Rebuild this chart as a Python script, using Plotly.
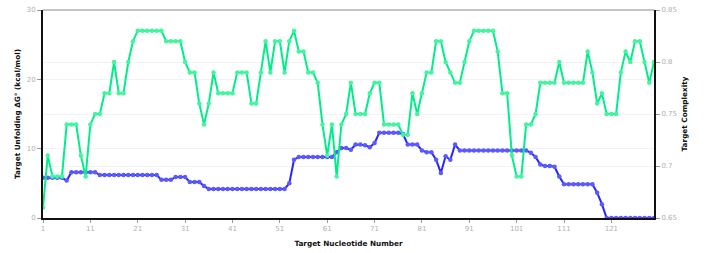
import plotly.graph_objects as go

nucleotide = list(range(1, 131))

unfolding_dg = [
    5.8, 5.8, 5.8, 5.8, 5.8, 5.4, 6.6, 6.6, 6.6, 6.6,
    6.6, 6.6, 6.2, 6.2, 6.2, 6.2, 6.2, 6.2, 6.2, 6.2,
    6.2, 6.2, 6.2, 6.2, 6.2, 5.5, 5.5, 5.5, 5.9, 5.9,
    5.9, 5.2, 5.2, 5.2, 4.6, 4.2, 4.2, 4.2, 4.2, 4.2,
    4.2, 4.2, 4.2, 4.2, 4.2, 4.2, 4.2, 4.2, 4.2, 4.2,
    4.2, 4.2, 5.0, 8.4, 8.8, 8.8, 8.8, 8.8, 8.8, 8.8,
    8.8, 8.8, 9.5, 10.1, 10.1, 9.85, 10.6, 10.6, 10.5, 10.2,
    10.8, 12.3, 12.3, 12.3, 12.3, 12.3, 12.1, 10.6, 10.6, 10.6,
    9.75, 9.5, 9.5, 8.4, 6.5, 8.9, 8.4, 10.6, 9.75, 9.75,
    9.75, 9.75, 9.75, 9.75, 9.75, 9.75, 9.75, 9.75, 9.75, 9.75,
    9.75, 9.75, 9.75, 9.4, 8.8, 7.7, 7.5, 7.5, 7.4, 6.0,
    4.85, 4.85, 4.85, 4.85, 4.85, 4.85, 4.85, 3.65, 2.0, 0.0,
    0.0, 0.0, 0.0, 0.0, 0.0, 0.0, 0.0, 0.0, 0.0, 0.0,
]

complexity = [
    0.66, 0.71, 0.69, 0.69, 0.69, 0.74, 0.74, 0.74, 0.71, 0.69,
    0.74, 0.75, 0.75, 0.77, 0.77, 0.80, 0.77, 0.77, 0.80, 0.82,
    0.83, 0.83, 0.83, 0.83, 0.83, 0.83, 0.82, 0.82, 0.82, 0.82,
    0.80, 0.79, 0.79, 0.76, 0.74, 0.76, 0.79, 0.77, 0.77, 0.77,
    0.77, 0.79, 0.79, 0.79, 0.76, 0.76, 0.79, 0.82, 0.79, 0.82,
    0.82, 0.79, 0.82, 0.83, 0.81, 0.81, 0.79, 0.79, 0.78, 0.74,
    0.71, 0.74, 0.69, 0.74, 0.75, 0.78, 0.75, 0.75, 0.75, 0.77,
    0.78, 0.78, 0.74, 0.74, 0.74, 0.74, 0.73, 0.73, 0.77, 0.75,
    0.77, 0.79, 0.79, 0.82, 0.82, 0.80, 0.79, 0.78, 0.78, 0.80,
    0.82, 0.83, 0.83, 0.83, 0.83, 0.83, 0.81, 0.77, 0.77, 0.71,
    0.69, 0.69, 0.74, 0.74, 0.75, 0.78, 0.78, 0.78, 0.78, 0.80,
    0.78, 0.78, 0.78, 0.78, 0.78, 0.81, 0.79, 0.76, 0.77, 0.75,
    0.75, 0.75, 0.79, 0.81, 0.80, 0.82, 0.82, 0.80, 0.78, 0.80,
]

x_ticks = list(range(1, 130, 10))

BLUE = "#2424ff"
GREEN = "#00ee88"
TICKFONT = dict(family="DejaVu Sans, Verdana, sans-serif", size=7, color="#b0b0b0")
TITLEFONT = dict(family="DejaVu Sans, Verdana, sans-serif", size=7.3, color="#111111", weight="bold")

fig = go.Figure()
fig.add_trace(go.Scatter(
    x=nucleotide, y=unfolding_dg, mode="lines+markers", yaxis="y",
    line=dict(color=BLUE, width=2),
    marker=dict(color="#5a5aff", size=4.5, line=dict(width=0)),
    showlegend=False, hoverinfo="x+y",
))
fig.add_trace(go.Scatter(
    x=nucleotide, y=complexity, mode="lines+markers", yaxis="y2",
    line=dict(color=GREEN, width=2),
    marker=dict(color="#44f5a0", size=4.5, line=dict(width=0)),
    showlegend=False, hoverinfo="x+y",
))

fig.update_layout(
    width=708, height=253,
    margin=dict(l=43, r=54, t=10, b=35, autoexpand=False),
    paper_bgcolor="white", plot_bgcolor="white",
    xaxis=dict(
        range=[1, 130], tickvals=x_ticks, ticktext=[str(v) for v in x_ticks],
        showgrid=False, zeroline=False,
        showline=True, linecolor="#111111", linewidth=2, mirror=False,
        ticks="outside", ticklen=3, tickcolor="#999999", tickwidth=1,
        tickfont=TICKFONT, automargin=False,
        title=dict(text="Target Nucleotide Number", font=TITLEFONT, standoff=8),
    ),
    yaxis=dict(
        range=[0, 30], tickvals=[0, 10, 20, 30],
        showgrid=True, gridcolor="#f3f3f3", gridwidth=1, zeroline=False,
        showline=True, linecolor="#111111", linewidth=2,
        ticks="outside", ticklen=4, tickcolor="#999999", tickwidth=1,
        tickfont=TICKFONT, automargin=False,
        title=dict(text="Target Unfolding ΔG° (kcal/mol)", font=TITLEFONT, standoff=5),
    ),
    yaxis2=dict(
        range=[0.65, 0.85], tickvals=[0.65, 0.7, 0.75, 0.8, 0.85],
        ticktext=["0.65", "0.7", "0.75", "0.8", "0.85"],
        overlaying="y", side="right",
        showgrid=True, gridcolor="#f3f3f3", gridwidth=1, zeroline=False,
        showline=True, linecolor="#111111", linewidth=2,
        ticks="outside", ticklen=4, tickcolor="#999999", tickwidth=1,
        tickfont=TICKFONT, automargin=False,
        title=dict(text="Target Complexity", font=TITLEFONT, standoff=6),
    ),
    shapes=[dict(type="line", xref="paper", yref="paper", x0=0, x1=1, y0=1, y1=1,
                 line=dict(color="#888888", width=1), layer="above")],
)

fig.write_html("out.html")
